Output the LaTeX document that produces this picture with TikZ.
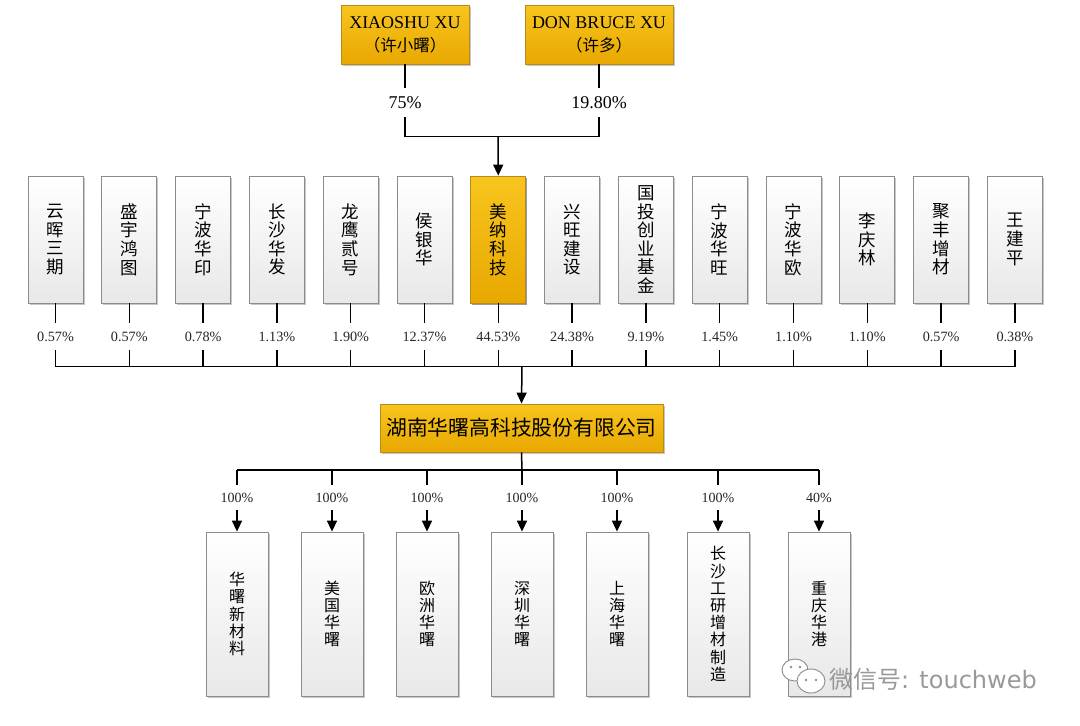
\documentclass[tikz,border=0pt]{standalone}
\usepackage{fontspec}
\setmainfont{Liberation Serif}
\newfontfamily\cjk{Noto Sans CJK SC}
\newfontfamily\wmfont{DejaVu Sans}
\usetikzlibrary{arrows.meta,shadows,positioning}
\definecolor{goldA}{HTML}{F8C51E}
\definecolor{goldB}{HTML}{E8A800}
\definecolor{goldD}{HTML}{B88A1E}
\definecolor{boxline}{HTML}{8C8C8C}
\begin{document}
\begin{tikzpicture}[x=1pt,y=-1pt,
  shad/.style={drop shadow={opacity=0.22,shadow xshift=1.6pt,shadow yshift=-1.6pt,fill=black}},
  greybox/.style={draw=boxline,line width=0.8pt,top color=white,bottom color=black!9,shad,align=center,inner sep=0pt},
  goldbox/.style={draw=goldD,line width=0.8pt,top color=goldA,bottom color=goldB,shad,align=center,inner sep=0pt},
  holder/.style={greybox,minimum width=55pt,minimum height=127pt,font=\cjk\fontsize{17.5}{18.6}\selectfont},
  sub/.style={greybox,minimum width=62pt,minimum height=164pt,font=\cjk\fontsize{16}{17.2}\selectfont},
  toppct/.style={inner sep=0pt,minimum height=29pt,font=\fontsize{18}{20}\selectfont},
  midpct/.style={inner sep=0pt,minimum height=27pt,text=black!85,font=\fontsize{14.2}{16}\selectfont},
  botpct/.style={inner sep=0pt,minimum height=25pt,text=black!85,font=\fontsize{14}{16}\selectfont},
  wire/.style={line width=1.5pt,black},
  arr/.style={wire,-{Triangle[width=10pt,length=11pt]}}
]
\useasboundingbox[fill=white] (0,0) rectangle (1080,726);

% top owners
\node[goldbox,minimum width=128pt,minimum height=59pt] (xs) at (405,34.5)
  {\fontsize{18}{20}\selectfont XIAOSHU XU\\[8pt]{\cjk\fontsize{16.5}{18}\selectfont （许小曙）}};
\node[goldbox,minimum width=148pt,minimum height=59pt] (db) at (599,34.5)
  {\fontsize{18}{20}\selectfont DON BRUCE XU\\[8pt]{\cjk\fontsize{16.5}{18}\selectfont （许多）}};
\node[toppct] (pxs) at (405,102.5) {75\%};
\node[toppct] (pdb) at (599,102.5) {19.80\%};
\coordinate (topbus) at (498,136.5);

% shareholders row
\foreach \i/\t/\p in {0/云\\晖\\三\\期/0.57,1/盛\\宇\\鸿\\图/0.57,2/宁\\波\\华\\印/0.78,3/长\\沙\\华\\发/1.13,
  4/龙\\鹰\\贰\\号/1.90,5/侯\\银\\华/12.37,7/兴\\旺\\建\\设/24.38,8/国\\投\\创\\业\\基\\金/9.19,
  9/宁\\波\\华\\旺/1.45,10/宁\\波\\华\\欧/1.10,11/李\\庆\\林/1.10,12/聚\\丰\\增\\材/0.57,13/王\\建\\平/0.38}{
  \node[holder] (h\i) at ({55.5+73.8*\i},239.5) {\t};
  \node[midpct] (q\i) at ({55.5+73.8*\i},336.5) {\p\%};
}
\node[holder,goldbox,minimum width=55pt,minimum height=127pt] (h6) at (498.3,239.5) {美\\纳\\科\\技};
\node[midpct] (q6) at (498.3,336.5) {44.53\%};
\coordinate (midbus) at (522,366.5);

% main company
\node[goldbox,minimum width=283pt,minimum height=48pt,font=\cjk\fontsize{20.8}{24}\selectfont] (hn) at (521.5,428)
  {湖南华曙高科技股份有限公司};
\coordinate (botbus) at (522,470);

% subsidiaries
\foreach \i/\x/\t/\p in {1/237/华\\曙\\新\\材\\料/100,2/332/美\\国\\华\\曙/100,3/427/欧\\洲\\华\\曙/100,
  4/522/深\\圳\\华\\曙/100,5/617/上\\海\\华\\曙/100,6/718/长\\沙\\工\\研\\增\\材\\制\\造/100,7/819/重\\庆\\华\\港/40}{
  \node[sub] (s\i) at (\x,614) {\t};
  \node[botpct] (r\i) at (\x,497.5) {\p\%};
}

% connectors: top
\draw[wire] (xs.south) -- (pxs.north);
\draw[wire] (db.south) -- (pdb.north);
\draw[wire] (pxs.south) |- (topbus) -| (pdb.south);
\draw[arr] (topbus) -- (h6.north);

% connectors: shareholders
\foreach \i in {0,...,13}{
  \draw[wire] (h\i.south) -- (q\i.north);
  \draw[wire] (q\i.south) -- (q\i.south |- midbus);
}
\draw[wire] (q0.south |- midbus) -- (q13.south |- midbus);
\draw[arr] (midbus) -- (hn.north);

% connectors: subsidiaries
\draw[wire] (hn.south) -- (botbus);
\draw[wire] (r1.north |- botbus) -- (r7.north |- botbus);
\foreach \i in {1,...,7}{
  \draw[wire] (r\i.north |- botbus) -- (r\i.north);
  \draw[arr] (r\i.south) -- (s\i.north);
}

% watermark
\begin{scope}[draw=black!45,fill=white,line width=0.9pt]
  \filldraw (795,670) ellipse (13pt and 11pt);
  \filldraw (811,681) ellipse (14pt and 12pt);
  \fill[black!45] (791,667) circle (1.4pt) (800,667) circle (1.4pt);
  \fill[black!45] (806,680) circle (1.3pt) (816,680) circle (1.3pt);
\end{scope}
\node[anchor=west,inner sep=0pt,text=black!40,font=\fontsize{24}{26}\selectfont] (wm) at (829,679)
  {{\cjk 微信号}{\wmfont : touchweb}};
\end{tikzpicture}
\end{document}
